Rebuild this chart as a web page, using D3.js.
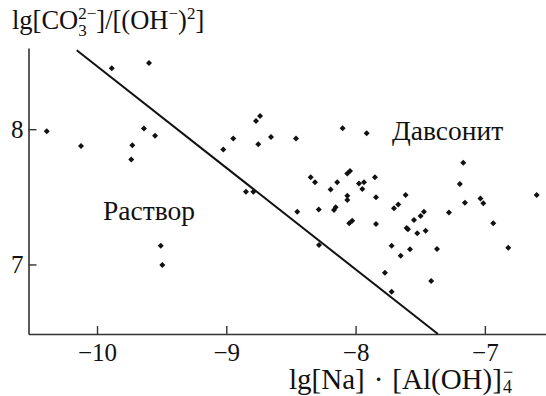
<!DOCTYPE html>
<html>
<head>
<meta charset="utf-8">
<script src="https://cdn.jsdelivr.net/npm/d3@7"></script>
<style>
  body { margin: 0; background: #fff; }
</style>
</head>
<body>
<svg width="546" height="396"></svg>
<script>
var SERIF = "'Liberation Serif', 'DejaVu Serif', serif";

// measured points: lg[Na]·[Al(OH)4-] vs lg[CO3 2-]/[(OH-)^2]
var pointsX = [
  -10.389, -10.124, -9.886, -9.598, -9.637, -9.551, -9.727, -9.735, -9.507, -9.495,
  -9.023, -8.946, -8.770, -8.739, -8.753, -8.654, -8.461, -8.100, -7.914, -8.848, -8.791,
  -8.347, -8.314, -8.064, -8.043, -8.142, -8.193, -7.974, -7.935, -7.948, -7.850,
  -8.064, -8.064, -7.842, -8.451, -8.285, -8.167, -8.154, -8.049, -8.026, -7.842,
  -7.193, -7.613, -7.703, -7.670, -7.154, -7.034, -7.012, -7.278, -7.548, -7.497,
  -7.471, -7.605, -7.595, -7.523, -7.458, -7.721, -7.579, -7.651, -7.370, -7.773,
  -7.415, -7.721, -8.283, -7.167, -6.599, -6.935, -6.819
];
var pointsY = [
  7.985, 7.875, 8.450, 8.489, 8.005, 7.951, 7.882, 7.776, 7.139, 6.996,
  7.850, 7.931, 8.061, 8.098, 7.889, 7.943, 7.931, 8.007, 7.970, 7.537, 7.537,
  7.644, 7.607, 7.673, 7.690, 7.607, 7.555, 7.599, 7.607, 7.557, 7.644,
  7.508, 7.476, 7.496, 7.390, 7.407, 7.402, 7.422, 7.304, 7.323, 7.299,
  7.594, 7.513, 7.415, 7.444, 7.456, 7.487, 7.452, 7.384, 7.328, 7.358,
  7.390, 7.269, 7.260, 7.230, 7.249, 7.139, 7.112, 7.065, 7.114, 6.939,
  6.878, 6.799, 7.144, 7.751, 7.513, 7.304, 7.124
];
// boundary line (two ends)
var lineX = [-10.157, -7.363];
var lineY = [8.583, 6.486];
var xTicks = [-10, -9, -8, -7];
var yTicks = [7, 8];

var svg = d3.select("svg");
var x = d3.scaleLinear().domain([-10.53, -6.527]).range([28.5, 546]);
var y = d3.scaleLinear().domain([6.486, 8.6]).range([334, 48]);

var fmt = function(d) { return String(d).replace("-", "\u2212"); };

// axes
var gx = svg.append("g").attr("transform", "translate(0,334)")
  .call(d3.axisBottom(x).tickValues(xTicks).tickSizeInner(-8).tickSizeOuter(0).tickPadding(9).tickFormat(fmt));
var gy = svg.append("g").attr("transform", "translate(28.5,0)")
  .call(d3.axisLeft(y).tickValues(yTicks).tickSizeInner(-8).tickSizeOuter(0).tickPadding(5).tickFormat(fmt));

[gx, gy].forEach(function(g) {
  g.attr("font-family", null).attr("font-size", null);
  g.select(".domain").attr("stroke", "#333").attr("stroke-width", 1.6);
  g.selectAll(".tick line").attr("stroke", "#333").attr("stroke-width", 1.4);
  g.selectAll(".tick text").style("font-family", SERIF).style("font-size", "25px").attr("fill", "#111");
});
gx.selectAll(".tick text").attr("dy", "0.71em");

// boundary line
svg.append("line")
  .attr("x1", x(lineX[0])).attr("y1", y(lineY[0]))
  .attr("x2", x(lineX[1])).attr("y2", y(lineY[1]))
  .attr("stroke", "#111").attr("stroke-width", 2);

// points
var sym = d3.symbol().type(d3.symbolSquare).size(18);
svg.append("g").selectAll("path")
  .data(pointsX.map(function(d, i) { return [d, pointsY[i]]; }))
  .enter().append("path")
  .attr("d", sym)
  .attr("transform", function(d) { return "translate(" + x(d[0]) + "," + y(d[1]) + ") rotate(45)"; })
  .attr("fill", "#111");

// text with sub/superscripts, measured piece by piece
function richText(x0, y0, size, parts) {
  var g = svg.append("g");
  var cx = x0, prevStart = x0;
  parts.forEach(function(p) {
    var start = (p.stack ? prevStart : cx) + (p.gap || 0);
    var t = g.append("text").attr("x", start).attr("y", y0 + (p.dy || 0))
      .style("font-family", SERIF).style("font-size", (p.size || size) + "px")
      .attr("fill", "#111").text(p.t);
    var w = t.node().getComputedTextLength();
    if (p.stack) { cx = Math.max(cx, start + w); }
    else { prevStart = start; cx = start + w; }
  });
}

richText(12, 29, 26.5, [
  {t: "lg[CO"},
  {t: "2\u2212", size: 17, dy: -10},
  {t: "3", size: 17, dy: 7, stack: true},
  {t: "]/[(OH"},
  {t: "\u2212", size: 17, dy: -10},
  {t: ")"},
  {t: "2", size: 17, dy: -10},
  {t: "]"}
]);

richText(289, 389, 29, [
  {t: "lg[Na]"},
  {t: "\u00b7", gap: 9},
  {t: "[Al(OH)]", gap: 9},
  {t: "\u2212", size: 18, dy: -11, gap: 1},
  {t: "4", size: 18, dy: 4, stack: true}
]);

svg.append("text").attr("x", 103).attr("y", 220).style("font-family", SERIF)
  .style("font-size", "27.5px").attr("fill", "#111").text("Раствор");
svg.append("text").attr("x", 392).attr("y", 140).style("font-family", SERIF)
  .style("font-size", "27.5px").attr("fill", "#111").text("Давсонит");
</script>
</body>
</html>
